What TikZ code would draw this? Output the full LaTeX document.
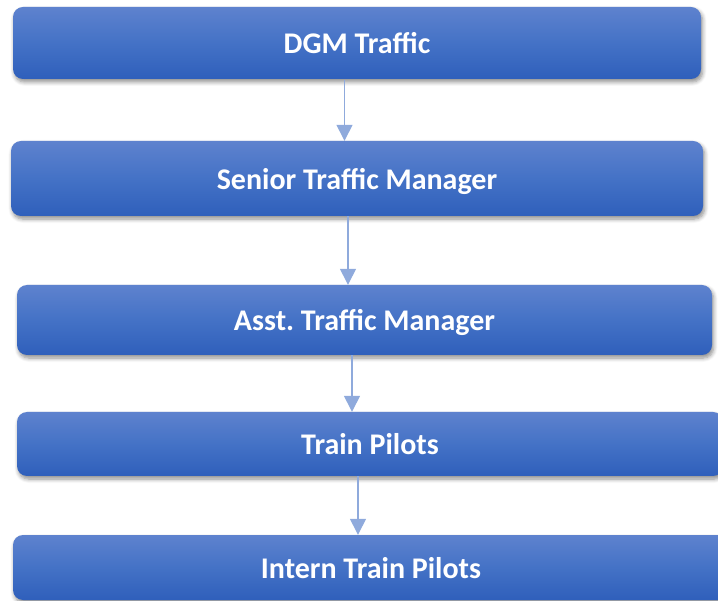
\documentclass[tikz,border=0pt]{standalone}
\usepackage{fontspec}
\setmainfont{Carlito}
\usetikzlibrary{arrows.meta,shadows.blur}
\definecolor{boxtop}{RGB}{94,130,206}
\definecolor{boxmid}{RGB}{68,114,198}
\definecolor{boxbot}{RGB}{47,95,187}
\definecolor{arrowblue}{RGB}{143,170,220}
\tikzset{
  orgbox/.style={rectangle, rounded corners=10pt, draw=none,
    top color=boxtop, bottom color=boxbot, middle color=boxmid,
    text=white, font=\fontsize{30}{36}\selectfont\bfseries\frenchspacing,
    inner sep=0pt, text height=22pt, text depth=0pt,
    blur shadow={shadow xshift=1.5pt, shadow yshift=-3pt, shadow blur steps=6, shadow opacity=45, shadow blur radius=4pt}},
  link/.style={draw=arrowblue, line width=1.4pt, -{Triangle[width=16pt,length=16pt]}}
}
\begin{document}
\begin{tikzpicture}[x=1pt,y=-1pt]
\useasboundingbox (0,0) rectangle (718,601);
\node[orgbox, minimum width=688pt, minimum height=72pt] (b1) at (357,43) {DGM Traffic};
\node[orgbox, minimum width=692pt, minimum height=75pt] (b2) at (357,178.5) {Senior Traffic Manager};
\node[orgbox, minimum width=695pt, minimum height=70pt] (b3) at (364.5,320) {Asst. Traffic Manager};
\node[orgbox, minimum width=706pt, minimum height=64pt] (b4) at (370,444) {Train Pilots};
\node[orgbox, minimum width=716pt, minimum height=65pt] (b5) at (371,567.5) {Intern Train Pilots};
\draw[link] ([xshift=-12.5pt,yshift=-1pt]b1.south) -- ([xshift=-12.5pt]b1.south |- b2.north);
\draw[link] ([xshift=-9pt]b2.south) -- ([xshift=-9pt]b2.south |- b3.north);
\draw[link] ([xshift=-12.5pt]b3.south) -- ([xshift=-12.5pt]b3.south |- b4.north);
\draw[link] ([xshift=-12pt]b4.south) -- ([xshift=-12pt]b4.south |- b5.north);
\end{tikzpicture}
\end{document}
